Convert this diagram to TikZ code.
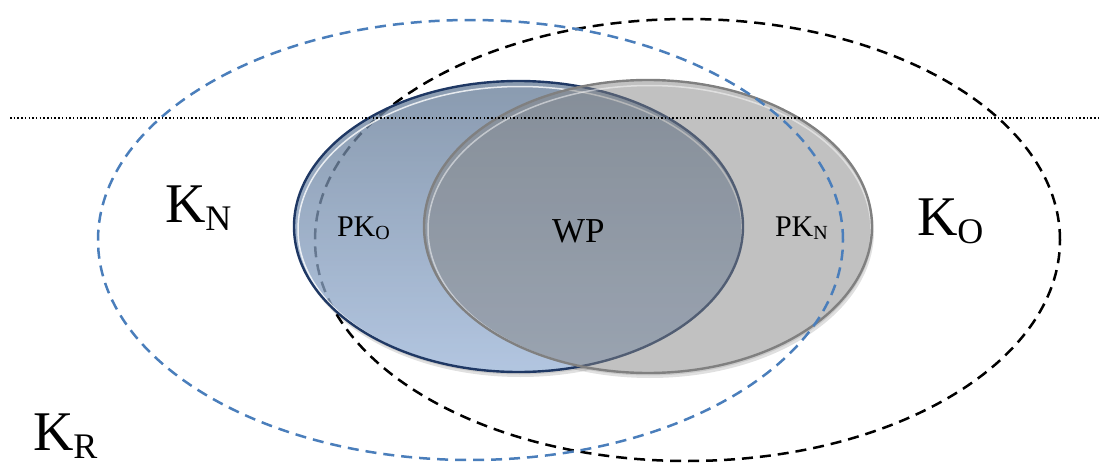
\documentclass[tikz,border=0pt]{standalone}
\usepackage{fontspec}
\setmainfont{Liberation Serif}
\definecolor{kblue}{RGB}{74,126,187}
\definecolor{navy}{RGB}{31,56,100}
\definecolor{gstroke}{RGB}{128,128,128}
\definecolor{btop}{RGB}{102,124,151}
\definecolor{bbot}{RGB}{155,180,215}
\definecolor{gfill}{RGB}{131,131,131}
\newcommand{\lblbig}[2]{\fontsize{56}{60}\selectfont #1\raisebox{-8pt}{\fontsize{36}{40}\selectfont #2}}
\newcommand{\lblsmall}[2]{\fontsize{30}{34}\selectfont #1\raisebox{-3pt}{\fontsize{20}{23}\selectfont #2}}
\tikzset{
  lbl/.style={anchor=base west, inner sep=0pt, outer sep=0pt, text=black},
  kndash/.style={kblue, line width=2.5pt, dash pattern=on 11pt off 7pt},
  kodash/.style={black, line width=2.5pt, dash pattern=on 11pt off 7pt},
  edgeline/.style={line width=2.4pt},
  hilite/.style={white, line width=1.5pt, opacity=0.8},
}
\begin{document}
\begin{tikzpicture}[x=1pt,y=-1pt]
\useasboundingbox (0,0) rectangle (1104,463);
% K_O ellipse (black dashed), under the blue set
\draw[kodash] (687.5,240) ellipse [x radius=372.5pt, y radius=221pt];
% soft shadows outside both sets
\begin{scope}[even odd rule]
  \clip (-10,-10) rectangle (1114,473) (518.5,226.5) ellipse [x radius=224.5pt, y radius=145.5pt];
  \begin{scope}[even odd rule]
  \clip (-10,-10) rectangle (1114,473) (648,226.5) ellipse [x radius=224pt, y radius=146.5pt];
  \fill[black, opacity=0.12, nonzero rule] (520.5,231.5) ellipse [x radius=224.5pt, y radius=145.5pt];
  \fill[black, opacity=0.12, nonzero rule] (650,231.5) ellipse [x radius=224pt, y radius=146.5pt];
  \fill[black, opacity=0.10, nonzero rule] (519.5,229) ellipse [x radius=224.5pt, y radius=145.5pt];
  \fill[black, opacity=0.10, nonzero rule] (649,229) ellipse [x radius=224pt, y radius=146.5pt];
  \end{scope}
\end{scope}
% blue set
\shade[top color=btop, bottom color=bbot, fill opacity=0.77] (518.5,226.5) ellipse [x radius=224.5pt, y radius=145.5pt];
\begin{scope}
  \clip (518.5,226.5) ellipse [x radius=224.5pt, y radius=145.5pt];
  \draw[hilite] (520,229.5) ellipse [x radius=222pt, y radius=143pt];
\end{scope}
\draw[navy, edgeline] (518.5,226.5) ellipse [x radius=224.5pt, y radius=145.5pt];
% gray set
\fill[gfill, fill opacity=0.5] (648,226.5) ellipse [x radius=224pt, y radius=146.5pt];
\begin{scope}
  \clip (648,226.5) ellipse [x radius=224pt, y radius=146.5pt];
  \draw[hilite, opacity=0.5] (649.5,229.5) ellipse [x radius=221.5pt, y radius=144pt];
\end{scope}
\draw[gstroke, edgeline] (648,226.5) ellipse [x radius=224pt, y radius=146.5pt];
% K_N ellipse (blue dashed)
\draw[kndash] (470.5,240) ellipse [x radius=372.5pt, y radius=220pt];
% dotted line
\coordinate (dl) at (10,118);
\coordinate (dr) at (1100,118);
\draw[black, line width=1.5pt, dash pattern=on 1.5pt off 2.2pt] (dl) -- (dr);
% labels
\node[lbl] (kn) at (165,222) {\lblbig{K}{N}};
\node[lbl] (ko) at (917,235) {\lblbig{K}{O}};
\node[lbl] (kr) at (33,450) {\lblbig{K}{R}};
\node[lbl] (pko) at (337,236) {\lblsmall{PK}{O}};
\node[lbl] (pkn) at (775,236) {\lblsmall{PK}{N}};
\node[lbl, font=\fontsize{35}{38}\selectfont] (wp) at (552,242) {WP};
\end{tikzpicture}
\end{document}
